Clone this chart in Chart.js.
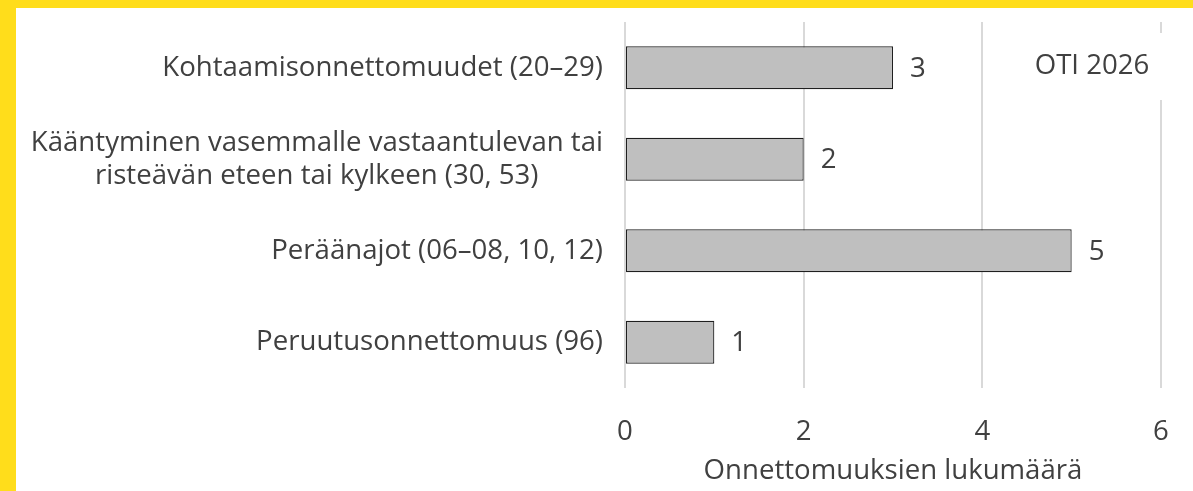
<!DOCTYPE html>
<html>
<head>
<meta charset="utf-8">
<script src="https://cdn.jsdelivr.net/npm/chart.js@4"></script>
<style>
  html, body { margin: 0; padding: 0; }
  body { width: 1193px; height: 491px; background: #FFDD1B; position: relative; overflow: hidden; }
  #wrap { position: absolute; left: 16px; top: 8px; width: 1177px; height: 483px; background: #ffffff; }
</style>
</head>
<body>
<div id="wrap"><canvas id="c"></canvas></div>
<script>
// ---- data ----
const categories = [
  ["Kohtaamisonnettomuudet (20–29)"],
  ["Kääntyminen vasemmalle vastaantulevan tai", "risteävän eteen tai kylkeen (30, 53)"],
  ["Peräänajot (06–08, 10, 12)"],
  ["Peruutusonnettomuus (96)"]
];
const values = [3, 2, 5, 1];
const xTickValues = [0, 2, 4, 6];
const axisTitle = "Onnettomuuksien lukumäärä";
const badgeText = "OTI 2026";

// ---- style ----
const FONT_FAMILY = "'Open Sans', 'Noto Sans', sans-serif";
const FONT_SIZE = 27.6;
const TEXT_COLOR = "#404040";

// center the shorter lines of multi-line labels (right-aligned by Chart.js) by padding with spaces
const mctx = document.createElement("canvas").getContext("2d");
mctx.font = FONT_SIZE + "px " + FONT_FAMILY;
const spaceW = mctx.measureText(" ").width;
const labels = categories.map(lines => {
  if (lines.length === 1) return lines[0];
  const widths = lines.map(l => mctx.measureText(l).width);
  const maxW = Math.max(...widths);
  return lines.map((l, i) => l + " ".repeat(Math.round((maxW - widths[i]) / 2 / spaceW)));
});

const valueLabels = {
  id: "valueLabels",
  afterDatasetsDraw(chart) {
    const ctx = chart.ctx;
    const meta = chart.getDatasetMeta(0);
    ctx.save();
    ctx.font = FONT_SIZE + "px " + FONT_FAMILY;
    ctx.fillStyle = TEXT_COLOR;
    ctx.textAlign = "left";
    ctx.textBaseline = "middle";
    meta.data.forEach((bar, i) => {
      ctx.fillText(String(values[i]), bar.x + 17, bar.y + 1);
    });
    ctx.restore();
  }
};

const badge = {
  id: "badge",
  afterDatasetsDraw(chart) {
    const ctx = chart.ctx;
    const a = chart.chartArea;
    ctx.save();
    ctx.fillStyle = "#ffffff";
    ctx.fillRect(a.right - 140, a.top + 11, 160, 67);
    ctx.font = FONT_SIZE + "px " + FONT_FAMILY;
    ctx.fillStyle = TEXT_COLOR;
    ctx.textAlign = "center";
    ctx.textBaseline = "middle";
    ctx.fillText(badgeText, a.right - 69, a.top + 44);
    ctx.restore();
  }
};

new Chart(document.getElementById("c"), {
  type: "bar",
  data: {
    labels: labels,
    datasets: [{
      data: values,
      backgroundColor: "#BFBFBF",
      borderColor: "#1F1F1F",
      borderWidth: 1.2,
      borderSkipped: false,
      categoryPercentage: 1,
      barPercentage: 0.47
    }]
  },
  options: {
    indexAxis: "y",
    responsive: true,
    maintainAspectRatio: false,
    animation: false,
    layout: { padding: { top: 14, right: 32, bottom: 0, left: 0 } },
    plugins: { legend: { display: false }, tooltip: { enabled: false } },
    scales: {
      x: {
        min: xTickValues[0],
        max: xTickValues[xTickValues.length - 1],
        afterBuildTicks(scale) { scale.ticks = xTickValues.map(v => ({ value: v })); },
        afterFit(scale) {
          scale.height = 103;
          scale.paddingLeft = 0; scale.paddingRight = 0;
          scale.paddingTop = 0; scale.paddingBottom = 0;
        },
        grid: { color: "#D9D9D9", lineWidth: 2, drawTicks: false },
        border: { display: false },
        ticks: {
          padding: 28,
          color: TEXT_COLOR,
          font: { family: FONT_FAMILY, size: FONT_SIZE }
        },
        title: {
          display: true,
          text: axisTitle,
          color: TEXT_COLOR,
          font: { family: FONT_FAMILY, size: FONT_SIZE },
          padding: { top: 0, bottom: 3 }
        }
      },
      y: {
        afterFit(scale) {
          scale.width = 609;
          scale.paddingTop = 0; scale.paddingBottom = 0;
          scale.paddingLeft = 0; scale.paddingRight = 0;
        },
        grid: { display: false, drawTicks: false },
        border: { display: false },
        ticks: {
          padding: 22,
          color: TEXT_COLOR,
          font: { family: FONT_FAMILY, size: FONT_SIZE, lineHeight: 1.2 }
        }
      }
    }
  },
  plugins: [valueLabels, badge]
});
</script>
</body>
</html>
